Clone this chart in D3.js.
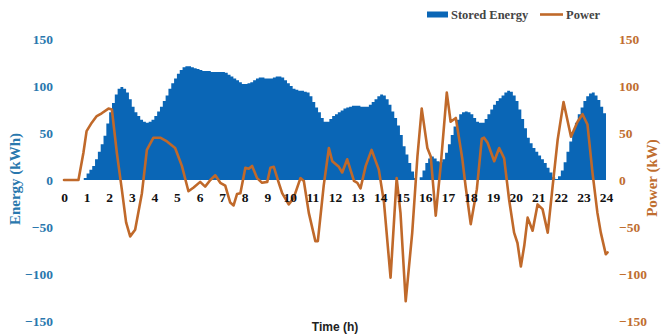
<!DOCTYPE html>
<html><head><meta charset="utf-8">
<script src="https://cdn.jsdelivr.net/npm/d3@7"></script>
<style>body{margin:0;background:#fff}svg{display:block}</style>
</head><body>
<script>
// ---- data ----
const hourTicks = d3.range(0, 25);                 // x tick labels 0..24
const energyTicks = [150, 100, 50, 0, -50, -100, -150];
const powerTicks = [150, 100, 50, 0, -50, -100, -150];
const energyStepHours = 0.125;
// Stored energy (kWh), one value per 1/8 hour from 0:00 (one row per hour), last value = 24:00
const energyValues = [
  0, 0, 0, 0, 0, 0, 0, 2,
  7, 11, 15, 22, 30, 38, 47, 60,
  72, 82, 91, 97, 99, 97, 93, 86,
  78, 72, 68, 64, 62, 61, 62, 64,
  68, 73, 78, 84, 90, 97, 103, 108,
  113, 117, 120, 121, 121, 120, 119, 118,
  117, 116, 116, 116, 115, 115, 115, 115,
  115, 114, 112, 110, 108, 106, 104, 102,
  102, 103, 104, 106, 108, 109, 109, 108,
  108, 108, 109, 110, 110, 109, 106, 103,
  100, 97, 96, 95, 95, 94, 93, 89,
  83, 77, 72, 66, 62, 62, 65, 68,
  70, 72, 74, 76, 77, 78, 79, 79,
  79, 78, 78, 78, 80, 83, 86, 89,
  91, 90, 86, 80, 73, 66, 58, 48,
  36, 27, 18, 9, 2, 0, 3, 10,
  18, 23, 25, 23, 20, 19, 22, 29,
  38, 48, 57, 64, 70, 72, 73, 72,
  70, 66, 62, 61, 61, 65, 70, 75,
  80, 84, 87, 90, 93, 95, 94, 90,
  84, 75, 65, 55, 45, 39, 34, 30,
  26, 22, 18, 13, 8, 3, 1, 4,
  10, 19, 30, 41, 52, 61, 70, 77,
  84, 89, 92, 93, 90, 85, 78, 71,
  66
];
// Power (kW)
const powerHours = [0,0.64,0.86,1.0,1.23,1.45,1.67,1.97,2.12,2.34,2.56,2.75,2.93,3.15,3.45,3.67,3.96,4.26,4.56,4.92,5.22,5.51,5.74,6.03,6.25,6.48,6.7,6.92,7.14,7.36,7.51,7.66,7.81,8.03,8.18,8.33,8.55,8.77,9.0,9.14,9.29,9.51,9.66,9.95,10.17,10.47,10.62,10.84,11.13,11.24,11.5,11.73,11.88,12.17,12.32,12.54,12.84,12.99,13.13,13.36,13.62,13.94,14.17,14.46,14.73,14.9,15.13,15.42,15.65,15.84,16.09,16.24,16.46,16.68,16.95,17.12,17.35,17.64,17.79,18.01,18.28,18.5,18.6,18.75,19.05,19.27,19.49,19.71,19.93,20.08,20.23,20.38,20.53,20.75,20.97,21.19,21.42,21.64,21.86,22.12,22.45,22.74,22.96,23.18,23.4,23.62,23.77,23.99,24.07];
const powerValues = [0,0,29,52,61,68,71,76,75,29,-10,-45,-60,-53,-14,32,45,45,41,34,15,-12,-8,-2,-7,0,5,-3,-6,-24,-27,-15,-14,13,12,15,2,-3,-2,13,14,-3,-14,-26,-19,2,-1,-35,-65,-65,-6,34,20,14,8,22,-1,-3,-9,15,32,11,-24,-104,2,-35,-129,-56,25,76,34,25,-38,15,93,62,66,22,-8,-47,-10,44,45,40,20,34,23,-21,-56,-67,-92,-70,-40,-54,-26,-31,-56,-6,43,83,46,62,70,59,8,-35,-56,-79,-77];
const seriesNames = ["Stored Energy", "Power"];

// ---- drawing ----
const W = 662, H = 336;
const blue = "#0a66b6", brown = "#c0692a";
const svg = d3.select("body").append("svg").attr("width", W).attr("height", H);

const x = d3.scaleLinear().domain([0, 24]).range([64, 606]);
const yE = d3.scaleLinear().domain([-150, 150]).range([321, 39]);
const yP = d3.scaleLinear().domain([-150, 150]).range([321, 39]);

const energyData = energyValues.map((v, i) => ({h: i * energyStepHours, v}));
svg.append("path")
  .datum(energyData)
  .attr("fill", blue)
  .attr("d", d3.area().curve(d3.curveStepAfter)
    .x(d => x(d.h)).y0(yE(0)).y1(d => yE(d.v)));

const powerData = powerHours.map((h, i) => ({h, v: powerValues[i]}));
svg.append("path")
  .datum(powerData)
  .attr("fill", "none").attr("stroke", brown).attr("stroke-width", 2.6)
  .attr("stroke-linejoin", "round").attr("stroke-linecap", "round")
  .attr("d", d3.line().x(d => x(d.h)).y(d => yP(d.v)));

const serif = "'Liberation Serif','Times New Roman',serif";

// x tick labels
const xAxis = d3.axisBottom(x).tickValues(hourTicks).tickSize(0).tickPadding(0).tickFormat(d3.format("d"));
const gx = svg.append("g").attr("transform", `translate(0,${yE(0)})`).call(xAxis);
gx.select(".domain").remove();
gx.selectAll("text").attr("y", 17).attr("dy", "0.35em")
  .attr("font-family", serif).attr("font-weight", "bold").attr("font-size", 13.5).attr("fill", "#111");

// left axis
const yAxisL = d3.axisLeft(yE).tickValues(energyTicks).tickSize(0).tickPadding(0);
const gl = svg.append("g").attr("transform", "translate(53,0)").call(yAxisL);
gl.select(".domain").remove();
gl.selectAll("text").attr("font-family", serif).attr("font-weight", "bold")
  .attr("font-size", 13.5).attr("fill", "#2a78ae");

// right axis
const yAxisR = d3.axisRight(yP).tickValues(powerTicks).tickSize(0).tickPadding(0);
const gr = svg.append("g").attr("transform", "translate(619,0)").call(yAxisR);
gr.select(".domain").remove();
gr.selectAll("text").attr("font-family", serif).attr("font-weight", "bold")
  .attr("font-size", 13.5).attr("fill", "#bf6e30");

// axis titles
svg.append("text").attr("transform", "translate(15,179) rotate(-90)")
  .attr("text-anchor", "middle").attr("dy", "0.35em")
  .attr("font-family", serif).attr("font-weight", "bold").attr("font-size", 15)
  .attr("fill", "#2a78ae").text("Energy (kWh)");
svg.append("text").attr("transform", "translate(652,178) rotate(-90)")
  .attr("text-anchor", "middle").attr("dy", "0.35em")
  .attr("font-family", serif).attr("font-weight", "bold").attr("font-size", 15)
  .attr("fill", "#bf6e30").text("Power (kW)");
svg.append("text").attr("x", 335).attr("y", 327).attr("dy", "0.35em")
  .attr("text-anchor", "middle")
  .attr("font-family", "'Liberation Sans',Arial,sans-serif").attr("font-weight", "bold").attr("font-size", 12)
  .attr("fill", "#222").text("Time (h)");

// legend
const lg = svg.append("g");
lg.append("rect").attr("x", 427).attr("y", 11.5).attr("width", 21).attr("height", 6).attr("fill", blue);
lg.append("text").attr("x", 451).attr("y", 14.5).attr("dy", "0.35em")
  .attr("font-family", serif).attr("font-weight", "bold").attr("font-size", 12.5)
  .attr("fill", "#444").text(seriesNames[0]);
lg.append("line").attr("x1", 540).attr("x2", 563).attr("y1", 14.5).attr("y2", 14.5)
  .attr("stroke", brown).attr("stroke-width", 2.6);
lg.append("text").attr("x", 566).attr("y", 14.5).attr("dy", "0.35em")
  .attr("font-family", serif).attr("font-weight", "bold").attr("font-size", 12.5)
  .attr("fill", "#444").text(seriesNames[1]);
</script>
</body></html>
